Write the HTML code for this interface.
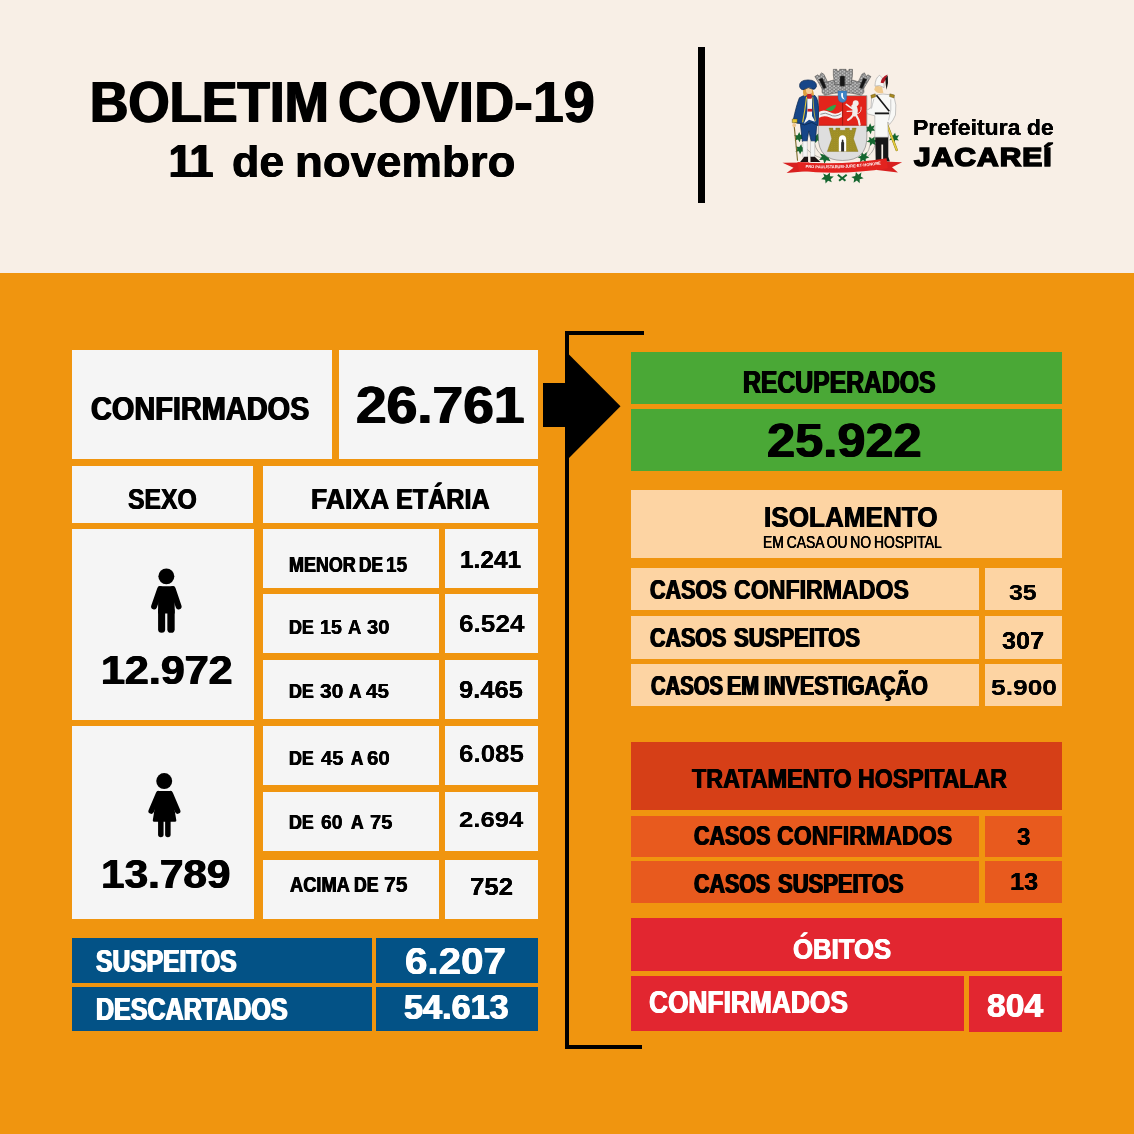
<!DOCTYPE html>
<html lang="pt-BR">
<head>
<meta charset="utf-8">
<title>Boletim COVID-19 - 11 de novembro - Prefeitura de Jacareí</title>
<style>
html,body{margin:0;padding:0}
body{width:1134px;height:1134px;overflow:hidden;background:#F8EFE6;font-family:"Liberation Sans", sans-serif}
#page{position:relative;width:1134px;height:1134px;overflow:hidden;background:#F8EFE6}
#band{position:absolute;left:0;top:273.3px;width:1134px;height:861px;background:#F0950F}
.b{position:absolute}
.t{position:absolute;white-space:pre;line-height:1;transform-origin:0 0;font-weight:bold;color:#000}
svg{position:absolute;overflow:visible}
</style>
</head>
<body>
<div id="page">
<div id="band"></div>
<div class="b" style="left:72.0px;top:350.0px;width:260.3px;height:109.0px;background:#F5F5F5"></div>
<div class="b" style="left:339.0px;top:350.0px;width:199.0px;height:109.0px;background:#F5F5F5"></div>
<div class="b" style="left:72.0px;top:466.0px;width:181.0px;height:57.0px;background:#F5F5F5"></div>
<div class="b" style="left:262.5px;top:466.0px;width:275.5px;height:57.0px;background:#F5F5F5"></div>
<div class="b" style="left:72.0px;top:528.6px;width:181.5px;height:191.4px;background:#F5F5F5"></div>
<div class="b" style="left:72.0px;top:726.3px;width:181.5px;height:192.7px;background:#F5F5F5"></div>
<div class="b" style="left:262.5px;top:529.0px;width:176.8px;height:59.2px;background:#F5F5F5"></div>
<div class="b" style="left:444.6px;top:529.0px;width:93.4px;height:59.2px;background:#F5F5F5"></div>
<div class="b" style="left:262.5px;top:594.3px;width:176.8px;height:59.1px;background:#F5F5F5"></div>
<div class="b" style="left:444.6px;top:594.3px;width:93.4px;height:59.1px;background:#F5F5F5"></div>
<div class="b" style="left:262.5px;top:660.0px;width:176.8px;height:59.4px;background:#F5F5F5"></div>
<div class="b" style="left:444.6px;top:660.0px;width:93.4px;height:59.4px;background:#F5F5F5"></div>
<div class="b" style="left:262.5px;top:726.0px;width:176.8px;height:59.0px;background:#F5F5F5"></div>
<div class="b" style="left:444.6px;top:726.0px;width:93.4px;height:59.0px;background:#F5F5F5"></div>
<div class="b" style="left:262.5px;top:792.0px;width:176.8px;height:59.4px;background:#F5F5F5"></div>
<div class="b" style="left:444.6px;top:792.0px;width:93.4px;height:59.4px;background:#F5F5F5"></div>
<div class="b" style="left:262.5px;top:859.6px;width:176.8px;height:59.4px;background:#F5F5F5"></div>
<div class="b" style="left:444.6px;top:859.6px;width:93.4px;height:59.4px;background:#F5F5F5"></div>
<div class="b" style="left:71.7px;top:938.2px;width:300.0px;height:44.5px;background:#035286"></div>
<div class="b" style="left:376.0px;top:938.2px;width:161.8px;height:44.5px;background:#035286"></div>
<div class="b" style="left:71.7px;top:987.0px;width:300.0px;height:44.0px;background:#035286"></div>
<div class="b" style="left:376.0px;top:987.0px;width:161.8px;height:44.0px;background:#035286"></div>
<div class="b" style="left:631.3px;top:351.7px;width:430.3px;height:52.7px;background:#4AA836"></div>
<div class="b" style="left:631.3px;top:409.3px;width:430.3px;height:61.4px;background:#4AA836"></div>
<div class="b" style="left:631.3px;top:490.3px;width:430.3px;height:67.7px;background:#FDD4A3"></div>
<div class="b" style="left:631.3px;top:568.0px;width:347.5px;height:41.7px;background:#FDD4A3"></div>
<div class="b" style="left:985.0px;top:568.0px;width:76.6px;height:41.7px;background:#FDD4A3"></div>
<div class="b" style="left:631.3px;top:616.3px;width:347.5px;height:42.3px;background:#FDD4A3"></div>
<div class="b" style="left:985.0px;top:616.3px;width:76.6px;height:42.3px;background:#FDD4A3"></div>
<div class="b" style="left:631.3px;top:664.0px;width:347.5px;height:41.7px;background:#FDD4A3"></div>
<div class="b" style="left:985.0px;top:664.0px;width:76.6px;height:41.7px;background:#FDD4A3"></div>
<div class="b" style="left:631.3px;top:742.3px;width:430.3px;height:67.9px;background:#D63F17"></div>
<div class="b" style="left:631.3px;top:815.5px;width:347.5px;height:41.5px;background:#E85A1E"></div>
<div class="b" style="left:985.0px;top:815.5px;width:76.6px;height:41.5px;background:#E85A1E"></div>
<div class="b" style="left:631.3px;top:861.2px;width:347.5px;height:41.4px;background:#E85A1E"></div>
<div class="b" style="left:985.0px;top:861.2px;width:76.6px;height:41.4px;background:#E85A1E"></div>
<div class="b" style="left:631.3px;top:918.3px;width:430.3px;height:52.5px;background:#E22630"></div>
<div class="b" style="left:631.3px;top:975.7px;width:333.0px;height:55.3px;background:#E22630"></div>
<div class="b" style="left:969.3px;top:975.7px;width:92.3px;height:56.0px;background:#E22630"></div>
<div class="b" style="left:698.0px;top:47.4px;width:6.6px;height:156.1px;background:#000000"></div>
<div class="b" style="left:565.1px;top:331.0px;width:3.8px;height:718.2px;background:#000000"></div>
<div class="b" style="left:565.0px;top:331.0px;width:79.0px;height:4.0px;background:#000000"></div>
<div class="b" style="left:565.0px;top:1044.7px;width:76.8px;height:4.5px;background:#000000"></div>
<div class="b" style="left:543.0px;top:383.3px;width:25.0px;height:44.1px;background:#000000"></div>
<svg style="left:0;top:0" width="1134" height="1134" viewBox="0 0 1134 1134"><polygon points="566,351.5 620.5,406.3 566,461.1" fill="#000"/></svg>
<svg style="left:126px;top:560px" width="80" height="80" viewBox="0 0 1134 1134">
<g fill="#000" stroke="#000" stroke-linecap="round" stroke-linejoin="round">
<circle cx="572" cy="232" r="113" stroke="none"/>
<path d="M484 412 L398 660" stroke-width="84" fill="none"/>
<path d="M662 412 L746 660" stroke-width="84" fill="none"/>
<path d="M478 372 H668 Q690 372 690 400 V760 H455 V400 Q455 372 478 372 Z" stroke="none"/>
<path d="M505 720 V980" stroke-width="100" fill="none"/>
<path d="M638 720 V980" stroke-width="104" fill="none"/>
</g></svg>
<svg style="left:124px;top:765px" width="80" height="80" viewBox="0 0 1134 1134">
<g fill="#000" stroke="#000" stroke-linecap="round" stroke-linejoin="round">
<circle cx="570" cy="228" r="113" stroke="none"/>
<path d="M490 408 L386 652" stroke-width="80" fill="none"/>
<path d="M656 408 L760 652" stroke-width="80" fill="none"/>
<path d="M490 390 H655 L722 785 H428 Z" stroke-width="40"/>
<path d="M522 800 V985" stroke-width="78" fill="none"/>
<path d="M622 800 V985" stroke-width="78" fill="none"/>
</g></svg>
<svg style="left:772px;top:58px" width="140" height="140" viewBox="0 0 1134 1134">
<defs>
<pattern id="brk" width="34" height="26" patternUnits="userSpaceOnUse">
<rect width="34" height="26" fill="#555"/>
<rect x="1" y="2" width="16" height="10" fill="#e2e2e2"/>
<rect x="18" y="15" width="16" height="10" fill="#d6d6d6"/>
<rect x="19" y="2" width="13" height="9" fill="#b0b0b0"/>
<rect x="2" y="15" width="13" height="9" fill="#a2a2a2"/>
</pattern>
<pattern id="gld" width="22" height="16" patternUnits="userSpaceOnUse">
<rect width="22" height="16" fill="#a8982a"/>
<path d="M0 12 L6 4 L11 12 L17 4 L22 12" stroke="#7d6f16" stroke-width="3" fill="none"/>
</pattern>
<clipPath id="shc"><path d="M375 305 H768 V640 Q768 830 572 830 Q375 830 375 640 Z"/></clipPath>
<path id="rib" d="M272 889 Q580 906 886 861"/>
<path id="lf" d="M0 -34 L9 -14 L30 -22 L20 0 L34 14 L10 14 L4 36 L-8 16 L-30 24 L-20 2 L-34 -12 L-10 -12 Z"/>
</defs>
<g stroke="#6b6b6b" stroke-width="4" fill="none">
<path d="M250 690 Q300 790 420 815"/><path d="M345 690 Q360 770 430 800"/><path d="M800 640 Q800 760 735 810"/><path d="M835 700 Q820 780 745 815"/>
</g>
<g fill="#15662f">
<use href="#lf" transform="translate(220 640) rotate(0) scale(1.20)"/><use href="#lf" transform="translate(230 738) rotate(10) scale(1.20)"/><use href="#lf" transform="translate(362 648) rotate(20) scale(1.20)"/><use href="#lf" transform="translate(432 805) rotate(15) scale(1.44)"/><use href="#lf" transform="translate(795 572) rotate(0) scale(1.26)"/><use href="#lf" transform="translate(812 672) rotate(30) scale(1.20)"/><use href="#lf" transform="translate(740 803) rotate(-20) scale(1.32)"/><use href="#lf" transform="translate(990 645) rotate(10) scale(1.20)"/><use href="#lf" transform="translate(450 970) rotate(25) scale(1.38)"/><use href="#lf" transform="translate(692 968) rotate(-15) scale(1.38)"/>
<path d="M538 940 l62 48 l-10 12 l-62 -48 z"/><path d="M600 940 l-62 48 l10 12 l62 -48 z"/>
</g>
<!-- crown -->
<g stroke="#3a3a3a" stroke-width="4" stroke-linejoin="round">
<path d="M347 150 L372 136 L382 150 L400 120 L420 132 L448 190 L452 265 L408 252 Z" fill="url(#brk)"/>
<path d="M801 150 L776 136 L766 150 L748 120 L728 132 L700 190 L696 265 L740 252 Z" fill="url(#brk)"/>
<path d="M408 205 Q575 140 740 205 L745 280 L722 302 Q575 258 428 302 L405 280 Z" fill="url(#brk)"/>
<path d="M497 92 H525 V106 H548 V92 H600 V106 H623 V92 H652 V140 L640 215 H508 L497 140 Z" fill="url(#brk)"/>
<rect x="551" y="146" width="38" height="82" rx="10" fill="#161616"/>
<path d="M380 172 L408 162 L440 238 L418 250 Z" fill="#161616"/>
<path d="M768 172 L740 162 L708 238 L730 250 Z" fill="#161616"/>
</g>
<!-- shield -->
<g clip-path="url(#shc)">
<rect x="370" y="300" width="402" height="247" fill="#e3241b"/>
<rect x="370" y="547" width="402" height="300" fill="#dedede"/>
<rect x="569" y="300" width="7" height="247" fill="#97190f"/>
<rect x="370" y="541" width="402" height="7" fill="#b81c14"/>
<path d="M378 438 Q420 412 470 440 T566 430 V478 Q520 506 470 482 T378 486 Z" fill="#f3f3f3"/>
<path d="M392 456 Q432 436 470 460 T560 452" stroke="#8f8f8f" stroke-width="8" fill="none"/>
<path d="M434 420 Q470 384 520 378 Q512 420 470 432 Z" fill="#2ea548"/>
<g fill="#f1ecea" stroke="#f1ecea" stroke-linejoin="round" stroke-linecap="round" fill-rule="nonzero">
<ellipse cx="678" cy="366" rx="24" ry="24" stroke="none"/>
<path d="M664 392 Q680 420 670 452" stroke-width="42" fill="none"/>
<path d="M602 376 L650 410" stroke-width="14" fill="none"/>
<path d="M608 432 L652 430" stroke-width="10" fill="none"/>
<path d="M664 456 L634 490 L616 502" stroke-width="17" fill="none"/>
<path d="M680 460 L702 502 L710 540" stroke-width="17" fill="none"/>
<path d="M690 452 Q726 446 722 398" stroke-width="7" fill="none"/>
</g>
</g>
<path d="M375 305 H768 V640 Q768 830 572 830 Q375 830 375 640 Z" fill="none" stroke="#777" stroke-width="5"/>
<path d="M448 757 L484 655 L462 568 H494 V586 H517 V568 H550 V586 H594 V568 H627 V586 H650 V568 H682 L660 655 L697 757 Z" fill="url(#gld)" stroke="#7d6f16" stroke-width="3"/>
<path d="M541 757 V662 Q541 625 571 625 Q601 625 601 662 V757 Z" fill="#fff"/>
<path d="M560 757 V700 Q558 680 566 676 Q562 662 572 660 Q582 662 578 676 Q588 682 584 704 V757 Z" fill="#2a2a2a"/>
<path d="M535 268 H605 V322 Q605 356 570 360 Q535 356 535 322 Z" fill="#3f84c6" stroke="#2a5f9a" stroke-width="3"/>
<path d="M562 284 Q550 326 590 338 Q570 316 574 284 Z" fill="#fff"/>
<!-- bandeirante -->
<g stroke-linejoin="round">
<path d="M180 552 L207 832" stroke="#7a6a2a" stroke-width="9" fill="none"/>
<path d="M228 515 H364 L352 676 H318 L298 590 L284 676 H246 Z" fill="#164688" stroke="#0b274f" stroke-width="6"/>
<rect x="250" y="674" width="36" height="130" fill="#f4f4f4" stroke="#999" stroke-width="3"/><rect x="312" y="674" width="34" height="130" fill="#f4f4f4" stroke="#999" stroke-width="3"/>
<path d="M228 842 L262 800 H292 V842 Z" fill="#1a1010"/><path d="M312 800 H346 L392 842 H312 Z" fill="#1a1010"/>
<path d="M258 304 Q300 292 348 304 Q376 330 378 430 L372 548 L322 522 L264 542 L228 530 L204 528 L170 512 Q198 380 222 322 Z" fill="#164688" stroke="#0b274f" stroke-width="6"/>
<path d="M286 322 H324 V470 Q342 498 348 516 L300 500 L258 532 Q286 482 286 430 Z" fill="#f7f7f7"/>
<path d="M280 314 Q268 420 248 522" stroke="#e4c531" stroke-width="9" fill="none"/>
<path d="M330 314 Q336 420 352 512" stroke="#e4c531" stroke-width="6" fill="none"/>
<rect x="288" y="412" width="38" height="22" fill="#c21f28"/>
<path d="M278 288 H326 L320 330 H286 Z" fill="#c21f28"/>
<rect x="164" y="494" width="40" height="30" fill="#e4c531" stroke="#3a3010" stroke-width="3"/>
<ellipse cx="180" cy="544" rx="15" ry="17" fill="#efc58d"/>
<path d="M256 232 Q244 290 262 312 L286 300 V240 Z" fill="#dfa040"/><path d="M322 240 Q346 290 336 308 L318 300 Z" fill="#dfa040"/>
<ellipse cx="300" cy="260" rx="25" ry="32" fill="#f6cc93"/>
<path d="M224 232 Q218 178 292 178 Q364 178 360 232 Q346 264 322 250 Q296 228 262 254 Q234 264 224 232 Z" fill="#164688" stroke="#0b274f" stroke-width="6"/>
</g>
<!-- soldier -->
<g stroke-linejoin="round">
<path d="M925 522 L1010 745" stroke="#8a7a18" stroke-width="19" fill="none" stroke-linecap="round"/>
<path d="M925 522 L1010 745" stroke="#e6cd3e" stroke-width="13" fill="none" stroke-linecap="round"/>
<path d="M836 636 H942 V800 L955 838 H900 V700 H886 V838 H840 Z" fill="#171717"/>
<path d="M808 304 Q900 282 985 300 Q1014 380 1000 462 Q984 505 952 538 L938 518 L942 642 H833 V468 L772 452 L768 424 L802 402 Z" fill="#f8f8f6" stroke="#8f8f8f" stroke-width="4"/>
<path d="M962 335 Q972 420 944 505" stroke="#9a9a9a" stroke-width="4" fill="none"/><path d="M826 330 Q812 380 806 410" stroke="#9a9a9a" stroke-width="4" fill="none"/>
<path d="M846 302 L950 432" stroke="#171717" stroke-width="13" fill="none"/>
<rect x="833" y="441" width="116" height="15" fill="#171717"/>
<path d="M800 302 L836 290 L840 314 L806 326 Z" fill="#a8891f" stroke="#5a4a10" stroke-width="3"/><path d="M955 290 L992 300 L988 324 L952 312 Z" fill="#a8891f" stroke="#5a4a10" stroke-width="3"/>
<path d="M836 230 Q860 220 892 236 L902 282 Q870 292 846 278 L828 258 Z" fill="#f0c98c"/>
<path d="M834 228 Q836 160 872 140 Q912 170 908 240 Q872 212 834 228 Z" fill="#f8f8f6" stroke="#8f8f8f" stroke-width="4"/>
<path d="M880 200 Q884 156 936 134 Q930 172 902 204 Z" fill="#b01a26"/>
<path d="M918 168 Q932 152 938 140 Q946 200 928 258 Q920 220 918 168 Z" fill="#171717"/>
</g>
<!-- ribbon -->
<g>
<path d="M85 848 L300 846 L300 915 L118 932 L174 888 Z" fill="#d81f1f"/>
<path d="M1054 844 L850 836 L850 908 L1020 928 L972 884 Z" fill="#d81f1f"/>
<path d="M206 843 Q570 874 928 813 L938 893 Q570 952 218 914 Z" fill="#e2231f"/>
<text font-family="'Liberation Sans', sans-serif" font-weight="bold" font-size="34" fill="#fff"><textPath href="#rib" textLength="612" lengthAdjust="spacingAndGlyphs">PRO PAULISTARUM·JURE·ET·HONORE</textPath></text>
</g>
</svg>
<span class="t" style="left:89.64px;top:73.66px;font-size:57.56px;transform:scaleX(0.9221);word-spacing:-0.070em;text-shadow:0.97px 0 0 currentColor,-0.97px 0 0 currentColor">BOLETIM</span>
<span class="t" style="left:337.78px;top:73.66px;font-size:57.56px;transform:scaleX(0.9674);word-spacing:-0.070em;text-shadow:0.73px 0 0 currentColor,-0.73px 0 0 currentColor">COVID-19</span>
<span class="t" style="left:169.36px;top:137.60px;font-size:46.51px;transform:scaleX(0.8945);word-spacing:-0.070em;text-shadow:1.18px 0 0 currentColor,-1.18px 0 0 currentColor">11</span>
<span class="t" style="left:231.97px;top:139.04px;font-size:44.80px;transform:scaleX(0.9995);word-spacing:-0.070em;text-shadow:0.47px 0 0 currentColor,-0.47px 0 0 currentColor">de</span>
<span class="t" style="left:295.14px;top:139.04px;font-size:44.80px;transform:scaleX(1.0177);word-spacing:-0.070em;text-shadow:0.40px 0 0 currentColor,-0.40px 0 0 currentColor">novembro</span>
<span class="t" style="left:91.24px;top:390.96px;font-size:34.01px;transform:scaleX(0.8501);word-spacing:-0.070em;text-shadow:0.82px 0 0 currentColor,-0.82px 0 0 currentColor">CONFIRMADOS</span>
<span class="t" style="left:355.74px;top:379.26px;font-size:52.47px;transform:scaleX(1.0500);word-spacing:-0.070em;text-shadow:0.75px 0 0 currentColor,-0.75px 0 0 currentColor">26.761</span>
<span class="t" style="left:128.28px;top:484.74px;font-size:29.07px;transform:scaleX(0.8512);word-spacing:-0.070em;text-shadow:0.70px 0 0 currentColor,-0.70px 0 0 currentColor">SEXO</span>
<span class="t" style="left:311.20px;top:484.51px;font-size:28.63px;transform:scaleX(0.9282);word-spacing:-0.070em;text-shadow:0.46px 0 0 currentColor,-0.46px 0 0 currentColor">FAIXA</span>
<span class="t" style="left:396.40px;top:484.51px;font-size:28.63px;transform:scaleX(0.8786);word-spacing:-0.070em;text-shadow:0.61px 0 0 currentColor,-0.61px 0 0 currentColor">ETÁRIA</span>
<span class="t" style="left:100.96px;top:649.82px;font-size:41.28px;transform:scaleX(1.0427);word-spacing:-0.070em;text-shadow:0.62px 0 0 currentColor,-0.62px 0 0 currentColor">12.972</span>
<span class="t" style="left:100.96px;top:854.68px;font-size:40.26px;transform:scaleX(1.0514);word-spacing:-0.070em;text-shadow:0.57px 0 0 currentColor,-0.57px 0 0 currentColor">13.789</span>
<span class="t" style="left:289.29px;top:554.64px;font-size:21.37px;transform:scaleX(0.8393);word-spacing:-0.070em;text-shadow:0.54px 0 0 currentColor,-0.54px 0 0 currentColor">MENOR</span>
<span class="t" style="left:358.69px;top:554.64px;font-size:21.37px;transform:scaleX(0.8066);word-spacing:-0.070em;text-shadow:0.63px 0 0 currentColor,-0.63px 0 0 currentColor">DE</span>
<span class="t" style="left:385.52px;top:554.64px;font-size:21.37px;transform:scaleX(0.8883);word-spacing:-0.070em;text-shadow:0.41px 0 0 currentColor,-0.41px 0 0 currentColor">15</span>
<span class="t" style="left:289.24px;top:617.26px;font-size:20.64px;transform:scaleX(0.8655);word-spacing:-0.070em;text-shadow:0.47px 0 0 currentColor,-0.47px 0 0 currentColor">DE</span>
<span class="t" style="left:320.37px;top:617.26px;font-size:20.64px;transform:scaleX(0.9534);word-spacing:-0.070em;text-shadow:0.27px 0 0 currentColor,-0.27px 0 0 currentColor">15</span>
<span class="t" style="left:347.99px;top:617.26px;font-size:20.64px;transform:scaleX(0.8967);word-spacing:-0.070em;text-shadow:0.40px 0 0 currentColor,-0.40px 0 0 currentColor">A</span>
<span class="t" style="left:366.81px;top:617.26px;font-size:20.64px;transform:scaleX(0.9805);word-spacing:-0.070em;text-shadow:0.22px 0 0 currentColor,-0.22px 0 0 currentColor">30</span>
<span class="t" style="left:289.24px;top:681.26px;font-size:20.64px;transform:scaleX(0.8655);word-spacing:-0.070em;text-shadow:0.47px 0 0 currentColor,-0.47px 0 0 currentColor">DE</span>
<span class="t" style="left:319.74px;top:681.26px;font-size:20.64px;transform:scaleX(1.0175);word-spacing:-0.070em;text-shadow:0.16px 0 0 currentColor,-0.16px 0 0 currentColor">30</span>
<span class="t" style="left:348.80px;top:681.26px;font-size:20.64px;transform:scaleX(0.8337);word-spacing:-0.070em;text-shadow:0.54px 0 0 currentColor,-0.54px 0 0 currentColor">A</span>
<span class="t" style="left:366.17px;top:681.26px;font-size:20.64px;transform:scaleX(1.0011);word-spacing:-0.070em;text-shadow:0.18px 0 0 currentColor,-0.18px 0 0 currentColor">45</span>
<span class="t" style="left:289.27px;top:748.01px;font-size:20.93px;transform:scaleX(0.8515);word-spacing:-0.070em;text-shadow:0.50px 0 0 currentColor,-0.50px 0 0 currentColor">DE</span>
<span class="t" style="left:321.25px;top:748.01px;font-size:20.93px;transform:scaleX(0.9592);word-spacing:-0.070em;text-shadow:0.26px 0 0 currentColor,-0.26px 0 0 currentColor">45</span>
<span class="t" style="left:350.65px;top:748.01px;font-size:20.93px;transform:scaleX(0.8091);word-spacing:-0.070em;text-shadow:0.61px 0 0 currentColor,-0.61px 0 0 currentColor">A</span>
<span class="t" style="left:366.50px;top:748.01px;font-size:20.93px;transform:scaleX(0.9805);word-spacing:-0.070em;text-shadow:0.22px 0 0 currentColor,-0.22px 0 0 currentColor">60</span>
<span class="t" style="left:289.29px;top:811.49px;font-size:21.08px;transform:scaleX(0.8445);word-spacing:-0.070em;text-shadow:0.52px 0 0 currentColor,-0.52px 0 0 currentColor">DE</span>
<span class="t" style="left:320.94px;top:811.49px;font-size:21.08px;transform:scaleX(0.9143);word-spacing:-0.070em;text-shadow:0.35px 0 0 currentColor,-0.35px 0 0 currentColor">60</span>
<span class="t" style="left:350.62px;top:811.49px;font-size:21.08px;transform:scaleX(0.8277);word-spacing:-0.070em;text-shadow:0.56px 0 0 currentColor,-0.56px 0 0 currentColor">A</span>
<span class="t" style="left:369.96px;top:811.49px;font-size:21.08px;transform:scaleX(0.9512);word-spacing:-0.070em;text-shadow:0.27px 0 0 currentColor,-0.27px 0 0 currentColor">75</span>
<span class="t" style="left:290.10px;top:874.28px;font-size:21.80px;transform:scaleX(0.8375);word-spacing:-0.070em;text-shadow:0.56px 0 0 currentColor,-0.56px 0 0 currentColor">ACIMA</span>
<span class="t" style="left:353.67px;top:874.28px;font-size:21.80px;transform:scaleX(0.8079);word-spacing:-0.070em;text-shadow:0.64px 0 0 currentColor,-0.64px 0 0 currentColor">DE</span>
<span class="t" style="left:384.38px;top:874.28px;font-size:21.80px;transform:scaleX(0.9748);word-spacing:-0.070em;text-shadow:0.24px 0 0 currentColor,-0.24px 0 0 currentColor">75</span>
<span class="t" style="left:459.75px;top:548.17px;font-size:24.42px;transform:scaleX(1.0010);word-spacing:-0.070em;text-shadow:0.22px 0 0 currentColor,-0.22px 0 0 currentColor">1.241</span>
<span class="t" style="left:459.11px;top:613.30px;font-size:23.55px;transform:scaleX(1.1114);word-spacing:-0.070em;text-shadow:0 0 0 currentColor">6.524</span>
<span class="t" style="left:458.63px;top:677.66px;font-size:23.84px;transform:scaleX(1.0719);word-spacing:-0.070em;text-shadow:0.09px 0 0 currentColor,-0.09px 0 0 currentColor">9.465</span>
<span class="t" style="left:459.11px;top:742.85px;font-size:23.26px;transform:scaleX(1.1159);word-spacing:-0.070em;text-shadow:0 0 0 currentColor">6.085</span>
<span class="t" style="left:459.23px;top:809.46px;font-size:22.53px;transform:scaleX(1.1405);word-spacing:-0.070em;text-shadow:0 0 0 currentColor">2.694</span>
<span class="t" style="left:469.75px;top:875.04px;font-size:23.98px;transform:scaleX(1.0772);word-spacing:-0.070em;text-shadow:0.08px 0 0 currentColor,-0.08px 0 0 currentColor">752</span>
<span class="t" style="left:96.19px;top:945.65px;font-size:31.54px;transform:scaleX(0.7814);color:#FFFFFF;word-spacing:-0.070em;text-shadow:1.03px 0 0 currentColor,-1.03px 0 0 currentColor">SUSPEITOS</span>
<span class="t" style="left:95.83px;top:993.87px;font-size:31.40px;transform:scaleX(0.7979);color:#FFFFFF;word-spacing:-0.070em;text-shadow:0.96px 0 0 currentColor,-0.96px 0 0 currentColor">DESCARTADOS</span>
<span class="t" style="left:405.01px;top:944.05px;font-size:36.63px;transform:scaleX(1.1011);color:#FFFFFF;word-spacing:-0.070em;text-shadow:0.38px 0 0 currentColor,-0.38px 0 0 currentColor">6.207</span>
<span class="t" style="left:404.13px;top:989.89px;font-size:34.45px;transform:scaleX(0.9932);color:#FFFFFF;word-spacing:-0.070em;text-shadow:0.66px 0 0 currentColor,-0.66px 0 0 currentColor">54.613</span>
<span class="t" style="left:743.10px;top:366.71px;font-size:30.52px;transform:scaleX(0.8113);word-spacing:-0.070em;text-shadow:0.88px 0 0 currentColor,-0.88px 0 0 currentColor">RECUPERADOS</span>
<span class="t" style="left:766.84px;top:416.96px;font-size:47.38px;transform:scaleX(1.0671);word-spacing:-0.070em;text-shadow:0.61px 0 0 currentColor,-0.61px 0 0 currentColor">25.922</span>
<span class="t" style="left:763.80px;top:503.24px;font-size:29.07px;transform:scaleX(0.8987);word-spacing:-0.070em;text-shadow:0.55px 0 0 currentColor,-0.55px 0 0 currentColor">ISOLAMENTO</span>
<span class="t" style="left:763.12px;top:534.33px;font-size:17.01px;transform:scaleX(0.8166);font-weight:normal;word-spacing:-0.070em;text-shadow:0.28px 0 0 currentColor,-0.28px 0 0 currentColor">EM CASA OU NO HOSPITAL</span>
<span class="t" style="left:650.22px;top:576.41px;font-size:27.33px;transform:scaleX(0.7881);word-spacing:-0.070em;text-shadow:0.87px 0 0 currentColor,-0.87px 0 0 currentColor">CASOS</span>
<span class="t" style="left:733.84px;top:576.41px;font-size:27.33px;transform:scaleX(0.8473);word-spacing:-0.070em;text-shadow:0.67px 0 0 currentColor,-0.67px 0 0 currentColor">CONFIRMADOS</span>
<span class="t" style="left:650.48px;top:624.22px;font-size:27.91px;transform:scaleX(0.7685);word-spacing:-0.070em;text-shadow:0.96px 0 0 currentColor,-0.96px 0 0 currentColor">CASOS</span>
<span class="t" style="left:734.34px;top:624.22px;font-size:27.91px;transform:scaleX(0.7912);word-spacing:-0.070em;text-shadow:0.87px 0 0 currentColor,-0.87px 0 0 currentColor">SUSPEITOS</span>
<span class="t" style="left:650.57px;top:672.41px;font-size:27.33px;transform:scaleX(0.7398);word-spacing:-0.070em;text-shadow:1.05px 0 0 currentColor,-1.05px 0 0 currentColor">CASOS</span>
<span class="t" style="left:727.30px;top:672.41px;font-size:27.33px;transform:scaleX(0.7846);word-spacing:-0.070em;text-shadow:0.88px 0 0 currentColor,-0.88px 0 0 currentColor">EM</span>
<span class="t" style="left:764.28px;top:672.41px;font-size:27.33px;transform:scaleX(0.7876);word-spacing:-0.070em;text-shadow:0.87px 0 0 currentColor,-0.87px 0 0 currentColor">INVESTIGAÇÃO</span>
<span class="t" style="left:1008.85px;top:580.62px;font-size:22.82px;transform:scaleX(1.0930);word-spacing:-0.070em;text-shadow:0 0 0 currentColor">35</span>
<span class="t" style="left:1001.55px;top:629.57px;font-size:23.11px;transform:scaleX(1.0927);word-spacing:-0.070em;text-shadow:0.05px 0 0 currentColor,-0.05px 0 0 currentColor">307</span>
<span class="t" style="left:990.91px;top:675.79px;font-size:22.97px;transform:scaleX(1.1490);word-spacing:-0.070em;text-shadow:0 0 0 currentColor">5.900</span>
<span class="t" style="left:692.12px;top:765.41px;font-size:27.33px;transform:scaleX(0.8542);word-spacing:-0.070em;text-shadow:0.65px 0 0 currentColor,-0.65px 0 0 currentColor">TRATAMENTO</span>
<span class="t" style="left:857.86px;top:765.41px;font-size:27.33px;transform:scaleX(0.8483);word-spacing:-0.070em;text-shadow:0.67px 0 0 currentColor,-0.67px 0 0 currentColor">HOSPITALAR</span>
<span class="t" style="left:693.78px;top:823.00px;font-size:26.74px;transform:scaleX(0.8032);word-spacing:-0.070em;text-shadow:0.80px 0 0 currentColor,-0.80px 0 0 currentColor">CASOS</span>
<span class="t" style="left:777.09px;top:823.00px;font-size:26.74px;transform:scaleX(0.8675);word-spacing:-0.070em;text-shadow:0.60px 0 0 currentColor,-0.60px 0 0 currentColor">CONFIRMADOS</span>
<span class="t" style="left:693.89px;top:869.80px;font-size:28.05px;transform:scaleX(0.7634);word-spacing:-0.070em;text-shadow:0.98px 0 0 currentColor,-0.98px 0 0 currentColor">CASOS</span>
<span class="t" style="left:777.66px;top:869.80px;font-size:28.05px;transform:scaleX(0.7838);word-spacing:-0.070em;text-shadow:0.91px 0 0 currentColor,-0.91px 0 0 currentColor">SUSPEITOS</span>
<span class="t" style="left:1016.71px;top:824.84px;font-size:23.98px;transform:scaleX(1.0094);word-spacing:-0.070em;text-shadow:0.20px 0 0 currentColor,-0.20px 0 0 currentColor">3</span>
<span class="t" style="left:1009.60px;top:870.44px;font-size:23.98px;transform:scaleX(1.0574);word-spacing:-0.070em;text-shadow:0.11px 0 0 currentColor,-0.11px 0 0 currentColor">13</span>
<span class="t" style="left:793.20px;top:935.44px;font-size:29.07px;transform:scaleX(0.8856);color:#FFFFFF;word-spacing:-0.070em;text-shadow:0.59px 0 0 currentColor,-0.59px 0 0 currentColor">ÓBITOS</span>
<span class="t" style="left:649.37px;top:988.17px;font-size:30.81px;transform:scaleX(0.8548);color:#FFFFFF;word-spacing:-0.070em;text-shadow:0.73px 0 0 currentColor,-0.73px 0 0 currentColor">CONFIRMADOS</span>
<span class="t" style="left:987.28px;top:989.48px;font-size:33.28px;transform:scaleX(1.0115);color:#FFFFFF;word-spacing:-0.070em;text-shadow:0.58px 0 0 currentColor,-0.58px 0 0 currentColor">804</span>
<span class="t" style="left:912.81px;top:117.49px;font-size:22.38px;transform:scaleX(1.0285);text-shadow:0.10px 0 0 currentColor,-0.10px 0 0 currentColor">Prefeitura de</span>
<span class="t" style="left:914.43px;top:143.66px;font-size:26.02px;transform:scaleX(1.1504);word-spacing:-0.070em;letter-spacing:0.035em;-webkit-text-stroke:1.50px currentColor;text-shadow:0.53px 0 0 currentColor,-0.53px 0 0 currentColor">JACAREÍ</span>
</div>
</body>
</html>
